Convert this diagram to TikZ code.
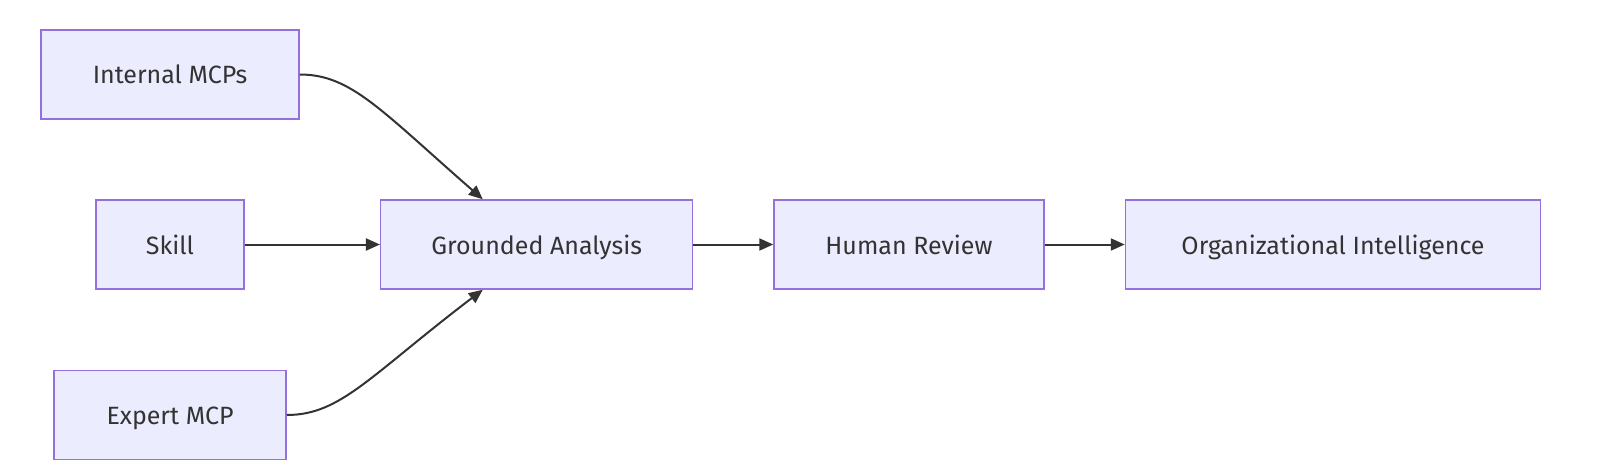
\documentclass[tikz,border=0pt]{standalone}
\usepackage{fontspec}
\setmainfont{Fira Sans}
\usetikzlibrary{positioning,arrows.meta}
\definecolor{boxfill}{HTML}{ECECFF}
\definecolor{boxline}{HTML}{9370DB}
\definecolor{edgeline}{HTML}{333333}
\tikzset{
    on grid,
    block/.style = {
        draw=boxline,
        fill=boxfill,
        shape=rectangle,
        minimum height=89pt,
        line width=1.5pt,
        text=edgeline,
        text height=21pt,
        text depth=2pt,
        font=\fontsize{25}{30}\selectfont
    },
    edge/.style = {
        draw=edgeline,
        line width=2pt
    },
    >={Triangle[length=14pt,width=12pt]},
}

\begin{document}
\begin{tikzpicture}
        \useasboundingbox (0pt,0pt) rectangle (1600pt,-476pt);

        \node[block, minimum width=148pt] (skill) at (170pt,-244.5pt) {Skill};
        \node[block, minimum width=258pt, above=170pt of skill] (intmcp) {Internal MCPs};
        \node[block, minimum width=232pt, below=170.5pt of skill] (expmcp) {Expert MCP};

        \node[block, minimum width=312pt, right=366.7pt of skill] (ground) {Grounded Analysis};
        \node[block, minimum width=270pt, right=372.3pt of ground] (human) {Human Review};
        \node[block, minimum width=415pt, right=424pt of human] (orgint) {Organizational Intelligence};

        \path[edge, ->] (intmcp.east) .. controls +(51pt,0pt) and +(-103pt,90pt) .. (ground.140);
        \path[edge, ->] (skill) -- (ground);
        \path[edge, ->] (expmcp.east) .. controls +(54pt,0pt) and +(-113pt,-86pt) .. (ground.220);

        \path[edge, ->] (ground) -- (human);
        \path[edge, ->] (human) -- (orgint);
    \end{tikzpicture}
\end{document}
